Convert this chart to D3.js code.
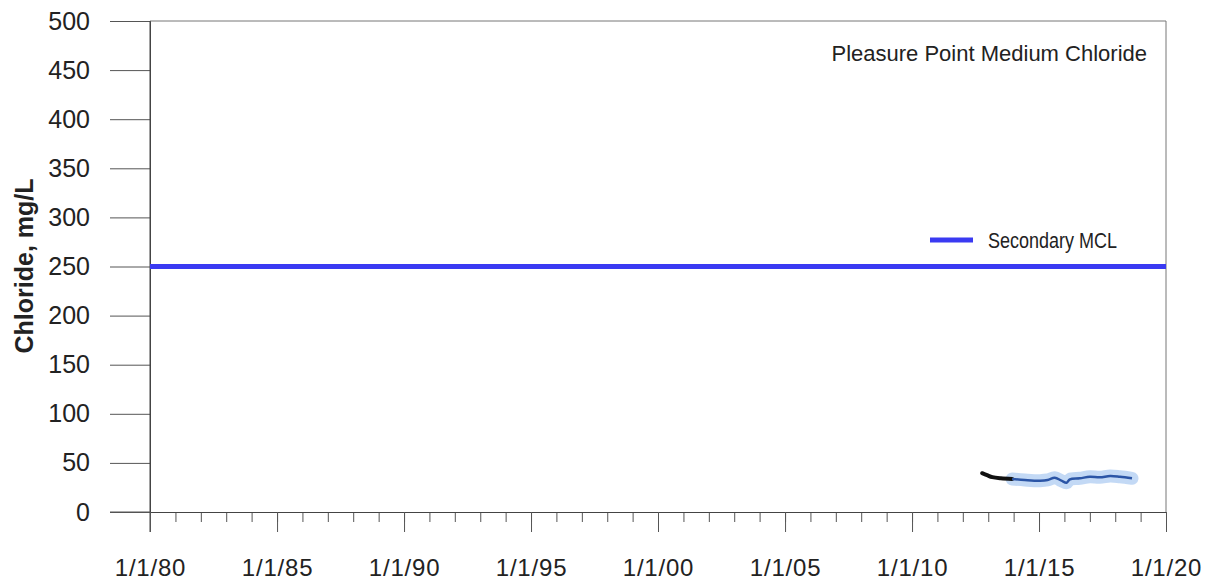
<!DOCTYPE html>
<html><head><meta charset="utf-8">
<script src="https://cdn.jsdelivr.net/npm/d3@7"></script>
<style>
body{margin:0;background:#fff;}
svg{display:block;font-family:"Liberation Sans",Arial,sans-serif;}
</style></head>
<body><svg id="c" width="1215" height="584"></svg>
<script>
const title = "Pleasure Point Medium Chloride";
const yLabel = "Chloride, mg/L";
const legendLabel = "Secondary MCL";
const mclValue = 250;
const yTicks = [0,50,100,150,200,250,300,350,400,450,500];
const xMajorYears = [1980,1985,1990,1995,2000,2005,2010,2015,2020];
const xTickLabels = ["1/1/80","1/1/85","1/1/90","1/1/95","1/1/00","1/1/05","1/1/10","1/1/15","1/1/20"];
const blackDates = ["2012-10-05","2012-12-15","2013-03-01","2013-07-01","2013-12-10"];
const blackValues = [39.5,37.5,35.5,34.3,33.6];
const blueDates = ["2013-12-10","2014-06-10","2015-01-15","2015-05-05","2015-08-15","2015-11-20","2016-02-01","2016-03-20","2016-08-10","2017-01-01","2017-05-25","2017-10-20","2018-03-10","2018-08-30"];
const blueValues = [33.6,32.6,31.9,32.6,34.9,31.9,29.8,33.3,34.3,35.9,35.3,36.7,35.9,34.3];

const svg = d3.select("#c");
const L=150, R=1166, T=21, B=512;
const x = d3.scaleTime().domain([new Date(1980,0,1), new Date(2020,0,1)]).range([L,R]);
const y = d3.scaleLinear().domain([0,500]).range([B,T]);
const parse = d3.timeParse("%Y-%m-%d");
const black = blackDates.map((d,i)=>({d:parse(d), v:blackValues[i]}));
const blue = blueDates.map((d,i)=>({d:parse(d), v:blueValues[i]}));

// frame (top & right)
svg.append("line").attr("x1",L).attr("x2",R).attr("y1",T).attr("y2",T).attr("stroke","#777").attr("stroke-width",1);
svg.append("line").attr("x1",R).attr("x2",R).attr("y1",T).attr("y2",B).attr("stroke","#777").attr("stroke-width",1);

// y axis
const yAx = svg.append("g").attr("transform",`translate(${L},0)`)
  .call(d3.axisLeft(y).tickValues(yTicks).tickSize(40).tickPadding(20));
yAx.select(".domain").attr("stroke","#444");
yAx.selectAll(".tick line").attr("stroke","#555");
yAx.selectAll("text").attr("font-size",25).attr("fill","#222").attr("font-family","Liberation Sans, Arial, sans-serif");
svg.append("line").attr("x1",L).attr("x2",L).attr("y1",T).attr("y2",532).attr("stroke","#444");

// x axis minor
const minor = d3.range(1980,2021).map(yr=>new Date(yr,0,1));
const xMinor = svg.append("g").attr("transform",`translate(0,${B})`)
  .call(d3.axisBottom(x).tickValues(minor).tickSize(10).tickFormat(""));
xMinor.select(".domain").remove();
xMinor.selectAll(".tick line").attr("stroke","#555");
const xAx = svg.append("g").attr("transform",`translate(0,${B})`)
  .call(d3.axisBottom(x).tickValues(xMajorYears.map(yr=>new Date(yr,0,1))).tickSize(20).tickPadding(27)
    .tickFormat((d,i)=>xTickLabels[i]));
xAx.select(".domain").attr("stroke","#444");
xAx.selectAll(".tick line").attr("stroke","#555");
xAx.selectAll("text").attr("font-size",24).attr("letter-spacing","0.8px").attr("fill","#222").attr("font-family","Liberation Sans, Arial, sans-serif");
svg.append("line").attr("x1",110).attr("x2",L).attr("y1",B).attr("y2",B).attr("stroke","#555");

// MCL line
svg.append("line").attr("x1",L).attr("x2",R).attr("y1",y(mclValue)).attr("y2",y(mclValue))
  .attr("stroke","#3a3af2").attr("stroke-width",5);

// data
const line = d3.line().x(d=>x(d.d)).y(d=>y(d.v)).curve(d3.curveCatmullRom);
svg.append("path").datum(blue).attr("d",line).attr("fill","none").attr("stroke","#b4cff2")
  .attr("stroke-width",13).attr("stroke-linecap","round").attr("opacity",0.8);
svg.append("path").datum(black).attr("d",line).attr("fill","none").attr("stroke","#111").attr("stroke-width",4).attr("stroke-linecap","round");
svg.append("path").datum(blue).attr("d",line).attr("fill","none").attr("stroke","#2b55a6").attr("stroke-width",2.5);

// title
svg.append("text").attr("x",1147).attr("y",61).attr("text-anchor","end").attr("font-size",22).attr("fill","#222").text(title);

// legend
svg.append("line").attr("x1",930).attr("x2",973).attr("y1",240).attr("y2",240).attr("stroke","#3a3af2").attr("stroke-width",5);
svg.append("text").attr("x",988).attr("y",248).attr("font-size",22)
  .attr("textLength",129).attr("lengthAdjust","spacingAndGlyphs")
  .attr("fill","#222").text(legendLabel);

// y label
svg.append("text").attr("transform","translate(33,266) rotate(-90)").attr("text-anchor","middle")
  .attr("font-size",25).attr("font-weight","bold").attr("fill","#222").text(yLabel);
</script></body></html>
